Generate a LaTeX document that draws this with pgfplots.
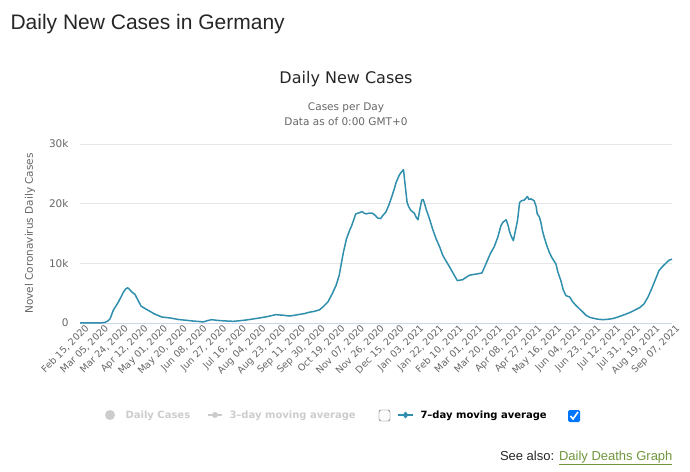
\documentclass[border=0pt]{standalone}
\usepackage{pgfplots}
\pgfplotsset{compat=1.18}
\usepackage{fontspec}
\setmainfont{Liberation Sans}
\newfontfamily\dv{DejaVu Sans}
\definecolor{teal7}{RGB}{47,143,172}
\definecolor{tickgray}{RGB}{102,102,102}
\definecolor{gridgray}{RGB}{230,230,230}
\definecolor{axisline}{RGB}{204,214,235}
\definecolor{legendgray}{RGB}{204,204,204}
\definecolor{linkgreen}{RGB}{112,150,60}
\definecolor{checkblue}{RGB}{0,117,255}
\begin{document}
\begin{tikzpicture}[x=1pt,y=1pt]
\path[use as bounding box] (0,0) rectangle (690,471);
\node[anchor=base west,font=\fontsize{21}{24}\selectfont,text=black!85] at (7,441) {Daily New Cases in Germany};
\node[anchor=base,font=\dv\fontsize{16}{19}\selectfont,text=black!85] at (346,387) {Daily New Cases};
\node[anchor=base,font=\dv\fontsize{10.5}{12}\selectfont,text=tickgray] at (346,360) {Cases per Day};
\node[anchor=base,font=\dv\fontsize{10.5}{12}\selectfont,text=tickgray] at (346,345) {Data as of 0:00 GMT+0};
\begin{axis}[
  scale only axis, width=592pt, height=179pt,
  at={(80pt,148pt)}, anchor=south west,
  xmin=0, xmax=571, ymin=0, ymax=30000,
  scaled y ticks=false,
  axis x line*=bottom, axis y line*=left,
  x axis line style={draw=axisline},
  y axis line style={draw=none},
  ytick={0,10000,20000,30000},
  yticklabels={0,10k,20k,30k},
  ymajorgrids, grid style={draw=gridgray},
  major tick length=0pt,
  xtick={0,19,...,570},
  xticklabels={{Feb 15, 2020},{Mar 05, 2020},{Mar 24, 2020},{Apr 12, 2020},{May 01, 2020},{May 20, 2020},{Jun 08, 2020},{Jun 27, 2020},{Jul 16, 2020},{Aug 04, 2020},{Aug 23, 2020},{Sep 11, 2020},{Sep 30, 2020},{Oct 19, 2020},{Nov 07, 2020},{Nov 26, 2020},{Dec 15, 2020},{Jan 03, 2021},{Jan 22, 2021},{Feb 10, 2021},{Mar 01, 2021},{Mar 20, 2021},{Apr 08, 2021},{Apr 27, 2021},{May 16, 2021},{Jun 04, 2021},{Jun 23, 2021},{Jul 12, 2021},{Jul 31, 2021},{Aug 19, 2021},{Sep 07, 2021}},
  xticklabel style={rotate=45, anchor=north east, inner sep=0.5pt, yshift=-3pt, xshift=3pt, font=\dv\fontsize{9.5}{11}\selectfont, text=tickgray},
  yticklabel style={font=\dv\fontsize{10.5}{12}\selectfont, text=tickgray, xshift=-8pt},
  ylabel={Novel Coronavirus Daily Cases},
  every axis y label/.style={at={(axis description cs:-0.0845,0.5)}, rotate=90, anchor=center, font=\dv\fontsize{10.5}{12}\selectfont, text=tickgray},
  clip=false,
]
\addplot[teal7, line width=1.5pt, line join=round] coordinates {
(0,0) (10,0) (20,20) (24,100) (27,350) (29,700) (32,2100) (37,3500) (42,5200) (44,5700) (46,5900) (48,5600) (50,5200) (53,4800) (56,3800) (59,2800) (63,2400) (67,2000) (72,1500) (79,1000) (87,840) (96,560) (103,450) (109,330) (115,250) (119,170) (123,400) (127,560) (131,470) (135,400) (142,330) (148,280) (154,380) (160,500) (166,650) (173,840) (180,1050) (189,1400) (196,1300) (202,1170) (207,1300) (212,1450) (217,1600) (221,1800) (226,1950) (231,2200) (235,2800) (239,3500) (243,4800) (247,6300) (250,8000) (252,9900) (254,11800) (257,14100) (260,15500) (262,16300) (264,17300) (266,18300) (268,18400) (270,18500) (272,18700) (274,18400) (276,18300) (279,18400) (282,18400) (285,18000) (287,17600) (290,17500) (292,18000) (295,18600) (298,19800) (300,20800) (303,22400) (305,23600) (308,24800) (310,25300) (312,25700) (313.5,23300) (315.5,20200) (317,19500) (319,18900) (321,18600) (322.5,18400) (324,17800) (326,17300) (328,19200) (329.6,20600) (331,20700) (332,20200) (334,19000) (337,17500) (340,15800) (343.5,14100) (347,12700) (350,11300) (353,10400) (356.5,9400) (360,8300) (364,7100) (367,7200) (369,7250) (372,7600) (375.5,8000) (380,8150) (384,8250) (387.7,8400) (390,9300) (393,10500) (396,11700) (399.6,12800) (403,14400) (406,16300) (408,16900) (411,17300) (413,16300) (414,15500) (416,14500) (418,13800) (420,15500) (422,17200) (424,20200) (426,20500) (428.5,20600) (430,20900) (431.6,21200) (433,20700) (435,20800) (438,20500) (440,19500) (441,18300) (443,17800) (444.5,16900) (446,15500) (447.7,14400) (450,13100) (452.5,11900) (455,11000) (459,9900) (461,8500) (463.8,7100) (466,5600) (468.6,4600) (470,4500) (472.4,4350) (475,3600) (478,3000) (481,2500) (484,2000) (488,1300) (491,1000) (494,840) (499,650) (504,560) (509,620) (513.5,730) (518,950) (522,1200) (526,1450) (531,1800) (535.5,2200) (540,2600) (544,3200) (548,4400) (552,6000) (555,7300) (558.5,8800) (562,9500) (565,10000) (568,10500) (571,10700)
};
\end{axis}
% legend
\begin{scope}[font=\dv\bfseries\fontsize{10}{12}\selectfont]
\fill[legendgray] (110,56) circle (5);
\node[anchor=base west,text=legendgray] at (122,52.5) {Daily Cases};
\draw[legendgray,line width=1.5pt] (208,56) -- (222,56);
\fill[legendgray] (215,56) circle (3);
\node[anchor=base west,text=legendgray] at (226,52.5) {3–day moving average};
\draw[black!70,rounded corners=1.5pt] (379,50) rectangle (390,61);
\draw[teal7,line width=1.5pt] (398,56) -- (413,56);
\fill[teal7] (405.5,56) -- (408.5,56) -- (405.5,59.5) -- (402.5,56) -- (405.5,52.5) -- (408.5,56) -- cycle;
\node[anchor=base west,text=black] at (417,52.5) {7–day moving average};
\fill[checkblue,rounded corners=1.5pt] (568,49) rectangle (580,61);
\draw[white,line width=1.6pt] (570.5,55) -- (573,52) -- (578,59);
\end{scope}
\node[anchor=base east,font=\fontsize{13}{15}\selectfont,text=black!85] at (676,11) {See also: \textcolor{linkgreen}{\underline{Daily Deaths Graph}}};
\end{tikzpicture}
\end{document}
